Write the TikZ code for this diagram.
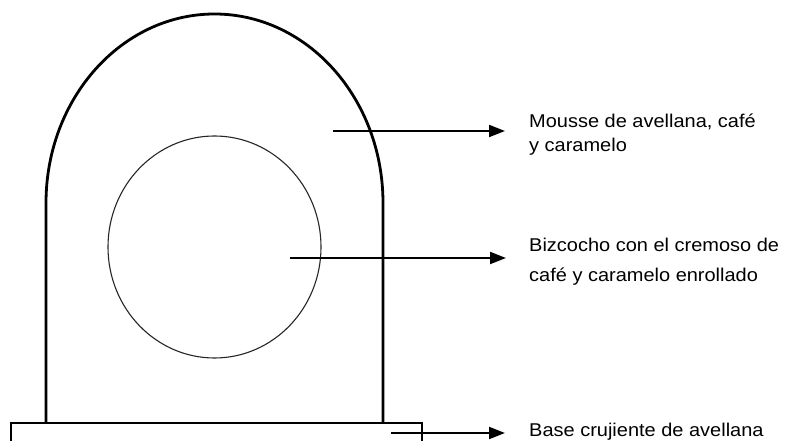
\documentclass[tikz,border=0pt]{standalone}
\usepackage{fontspec}
\newfontfamily\labfont[FakeStretch=1.08]{Liberation Sans}
\usetikzlibrary{arrows.meta}
\tikzset{
  outline/.style={line width=2.8pt, line join=round},
  sponge/.style={line width=1.1pt, draw=black!85},
  pointer/.style={line width=2pt, -{Triangle[length=16pt,width=12pt]}},
  lab/.style={anchor=base west, inner sep=0pt, font=\labfont\fontsize{18.5pt}{22pt}\selectfont, text=black}
}
\begin{document}
\begin{tikzpicture}[x=1pt,y=1pt]
\useasboundingbox[fill=white] (0,0) rectangle (787,441);
% base
\draw[line width=2.5pt] (11,-5) -- (11,18) -- (422,18) -- (422,-5);
% dome
\draw[outline] (46,18) -- (46,238) arc[start angle=180, end angle=0, x radius=168.5pt, y radius=189pt] -- (383,18);
% sponge roll
\draw[sponge] (214.5,194) ellipse[x radius=106.5pt, y radius=111pt];
% labels
\node[lab] (m1) at (529,313) {Mousse de avellana, café};
\node[lab] (m2) at (529,289) {y caramelo};
\node[lab] (b1) at (529,189) {Bizcocho con el cremoso de};
\node[lab] (b2) at (529,159) {café y caramelo enrollado};
\node[lab] (c1) at (529,4) {Base crujiente de avellana};
% arrow start points
\coordinate (s1) at (333,310);
\coordinate (e1) at (505,310);
\coordinate (s2) at (290,183);
\coordinate (e2) at (506,183);
\coordinate (s3) at (391,8);
\coordinate (e3) at (505,8);
\draw[pointer] (s1) -- (e1);
\draw[pointer] (s2) -- (e2);
\draw[pointer] (s3) -- (e3);
\end{tikzpicture}
\end{document}
